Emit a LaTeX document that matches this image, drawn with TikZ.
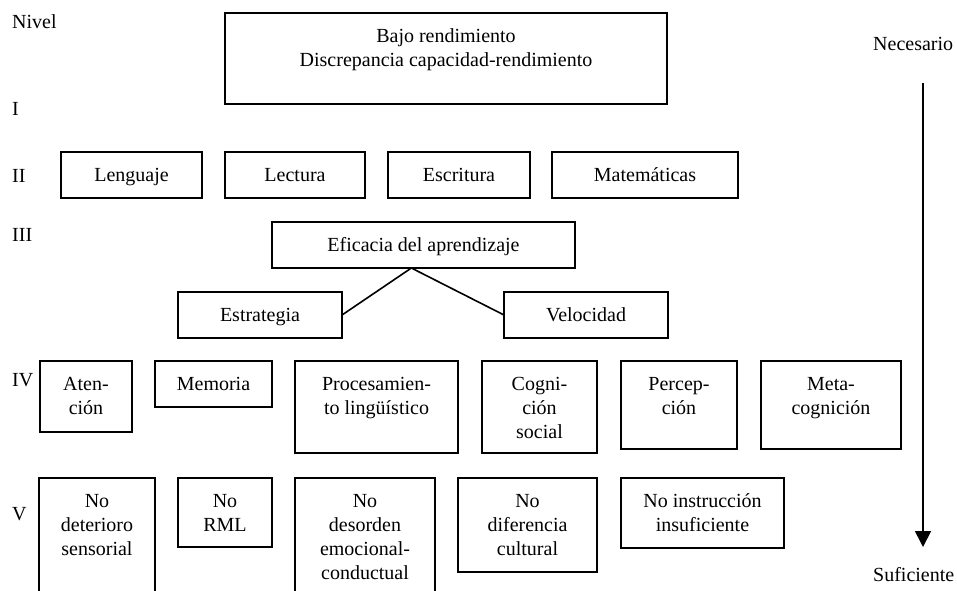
\documentclass[tikz,border=0pt]{standalone}
\usepackage{fontspec}
\setmainfont{Liberation Serif}
\usetikzlibrary{calc,arrows.meta}
\tikzset{
  boxnode/.style={draw, line width=1.6pt, inner sep=0pt, outer sep=0pt, anchor=north west,
    font=\fontsize{20}{24}\selectfont},
  lvl/.style={inner sep=0pt, anchor=base west, font=\fontsize{20}{24}\selectfont},
  side/.style={inner sep=0pt, anchor=base west, font=\fontsize{20}{24}\selectfont},
  conn/.style={line width=1.6pt},
  arrowline/.style={line width=1.6pt, -{Triangle[width=16pt,length=16pt]}}
}
% name, x1, y1, x2, y2, text
\newcommand\bx[6]{%
  \node[boxnode] (#1) at (#2,#3)
    {\parbox[t][\dimexpr #5pt-#3pt\relax][t]{\dimexpr #4pt-#2pt\relax}{\centering\vspace*{12.2pt}\strut #6}};}
\begin{document}
\begin{tikzpicture}[x=1pt,y=-1pt]
\useasboundingbox (0,0) rectangle (957,590);
\begin{scope}
\clip (0,0) rectangle (957,590);
% level labels
\node[lvl] (nivel) at (12,28) {Nivel};
\node[lvl] (l1) at (12,115) {I};
\node[lvl] (l2) at (12,182) {II};
\node[lvl] (l3) at (12,241) {III};
\node[lvl] (l4) at (12,386) {IV};
\node[lvl] (l5) at (12,520) {V};
% level I
\bx{bajo}{225}{13}{667}{104}{Bajo rendimiento\\Discrepancia capacidad-rendimiento}
% level II
\bx{leng}{61}{152}{202}{198}{Lenguaje}
\bx{lect}{225}{152}{365}{198}{Lectura}
\bx{escr}{388}{152}{530}{198}{Escritura}
\bx{mate}{552}{152}{738}{198}{Matemáticas}
% level III
\bx{efic}{272}{222}{575}{268}{Eficacia del aprendizaje}
\bx{estr}{178}{292}{342}{338}{Estrategia}
\bx{velo}{504}{292}{668}{338}{Velocidad}
% level IV
\bx{aten}{40}{361}{132}{432}{Aten-\\ción}
\bx{memo}{155}{361}{272}{407}{Memoria}
\bx{proc}{295}{361}{458}{453}{Procesamien-\\to lingüístico}
\bx{cogn}{482}{361}{597}{453}{Cogni-\\ción\\social}
\bx{perc}{621}{361}{737}{449}{Percep-\\ción}
\bx{meta}{761}{361}{901}{449}{Meta-\\cognición}
% level V
\bx{vsen}{39}{478}{155}{600}{No\\deterioro\\sensorial}
\bx{vrml}{178}{478}{272}{547}{No\\RML}
\bx{vemo}{295}{478}{435}{600}{No\\desorden\\emocional-\\conductual}
\bx{vcul}{458}{478}{597}{572}{No\\diferencia\\cultural}
\bx{vins}{621}{478}{784}{548}{No instrucción\\insuficiente}
\end{scope}
% connectors
\coordinate (apex) at ($(efic.south west)!0.46!(efic.south east)$);
\draw[conn] (apex) -- (estr.east);
\draw[conn] (apex) -- (velo.west);
% side scale
\node[side] (nec) at (873,50) {Necesario};
\node[side] (suf) at (873,581) {Suficiente};
\coordinate (atop) at (923,83);
\coordinate (abot) at (923,547);
\draw[arrowline] (atop) -- (abot);
\end{tikzpicture}
\end{document}
